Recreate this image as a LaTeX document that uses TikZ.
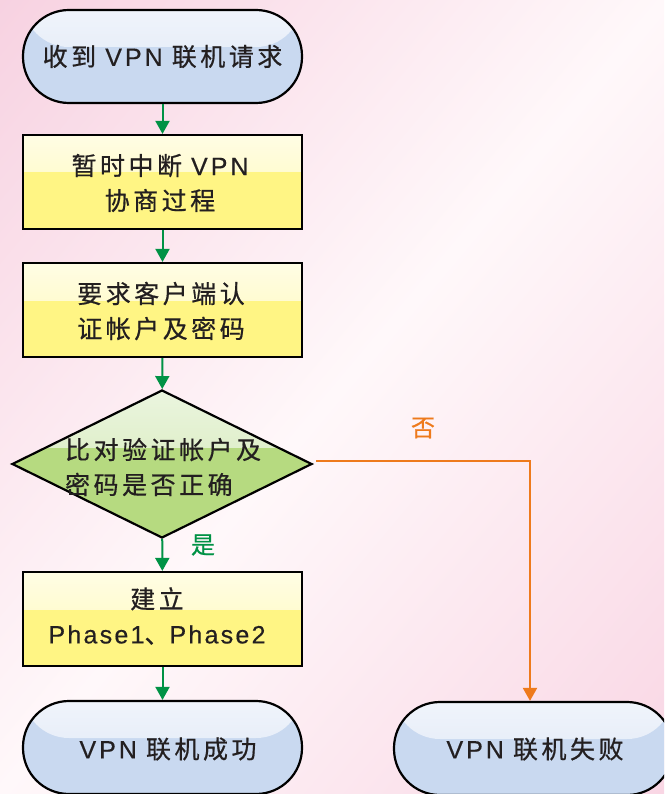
\documentclass[tikz,border=0pt]{standalone}
\usepackage{fontspec}
\setmainfont{Noto Sans CJK SC}
\newfontfamily\lblfont[LetterSpace=14,FakeBold=0.6]{Noto Sans CJK SC}
\newfontfamily\phfont[LetterSpace=9,FakeBold=0.4]{Liberation Sans}
\newfontfamily\vpnfont[LetterSpace=12,FakeBold=0.4]{Liberation Sans}
\usetikzlibrary{shapes.geometric,arrows.meta}
\definecolor{bgpink}{HTML}{F4C2D7}
\definecolor{bgpinkb}{HTML}{F6C8DB}
\definecolor{bgwhite}{HTML}{FFF8FA}
\pgfdeclareverticalshading{bgshade}{100bp}{color(0bp)=(bgpinkb); color(50bp)=(bgwhite); color(100bp)=(bgpink)}
\definecolor{termtop}{HTML}{F0F4FB}
\definecolor{termmid}{HTML}{DCE6F5}
\definecolor{termbot}{HTML}{C9D9F0}
\definecolor{yeltop}{HTML}{FFFDE4}
\definecolor{yelmid}{HTML}{FFF9B6}
\definecolor{yelbot}{HTML}{FFF584}
\definecolor{grntop}{HTML}{EBF5DF}
\definecolor{grnmid}{HTML}{CFE7AE}
\definecolor{grnbot}{HTML}{B6DA80}
\definecolor{txt}{HTML}{231F20}
\definecolor{garr}{HTML}{009245}
\definecolor{oarr}{HTML}{EE7A1C}
\newcommand{\VPNtxt}{{\vpnfont VPN}}
\newcommand{\PHtxt}[1]{{\phfont\fontsize{25pt}{35pt}\selectfont #1}}
\tikzset{
  base/.style={draw=black, line width=2.2pt, inner sep=0pt, text=txt,
    font=\lblfont\fontsize{25pt}{35pt}\selectfont, align=center},
  term/.style={base, rectangle, rounded corners=46pt, minimum width=279pt,
    minimum height=93pt, fill=termbot,
    path picture={\shade[top color=termtop, bottom color=termmid]
      (path picture bounding box.north west) rectangle
      ([yshift=-37pt]path picture bounding box.north east);}},
  procbox/.style={base, rectangle, minimum width=279pt, minimum height=94pt,
    fill=yelbot,
    path picture={\shade[top color=yeltop, bottom color=yelmid]
      (path picture bounding box.north west) rectangle
      ([yshift=-37pt]path picture bounding box.north east);}},
  decis/.style={base, diamond, minimum width=300pt, minimum height=148pt,
    fill=grnbot,
    path picture={\shade[top color=grntop, bottom color=grnmid]
      (path picture bounding box.north west) rectangle
      ([yshift=-57pt]path picture bounding box.north east);}},
  garrow/.style={draw=garr, line width=2pt,
    -{Triangle[width=14pt,length=13pt]}},
  oarrow/.style={draw=oarr, line width=2pt,
    -{Triangle[width=14pt,length=13pt]}},
  lbl/.style={font=\lblfont\fontsize{24pt}{30pt}\selectfont, inner sep=0pt}
}
\begin{document}
\begin{tikzpicture}[x=1pt,y=-1pt]
\useasboundingbox (0,0) rectangle (664,794);
\clip (0,0) rectangle (664,794);
\shade[shading=bgshade, shading angle=50] (0,0) rectangle (664,794);

\node[term] (t1) at (162.5,56.5) {收到 \VPNtxt\ 联机请求};
\node[procbox] (b2) at (162.5,182) {};
\node[base, draw=none, fill=none] (b2t) at (160,183) {暂时中断 \VPNtxt\\协商过程};
\node[procbox] (b3) at (162.5,310) {};
\node[base, draw=none, fill=none] (b3t) at (161,311) {要求客户端认\\证帐户及密码};
\node[decis] (d) at (162,464) {};
\node[base, draw=none, fill=none, align=left, anchor=west] (dt) at (64,467) {比对验证帐户及\\密码是否正确};
\node[procbox] (b4) at (162.5,619) {};
\node[base, draw=none, fill=none] (b4t) at (157,616) {建立\\\PHtxt{Phase1}、\PHtxt{Phase2}};
\node[term] (t2) at (162.5,747.5) {};
\node[base, draw=none, fill=none] (t2t) at (168,749) {\VPNtxt\ 联机成功};
\node[term] (t3) at (533.5,748.5) {};
\node[base, draw=none, fill=none] (t3t) at (535,749) {\VPNtxt\ 联机失败};

\draw[garrow] (t1) -- (b2);
\draw[garrow] (b2) -- (b3);
\draw[garrow] (b3) -- (d);
\draw[garrow] (d) -- (b4);
\draw[garrow] (b4) -- (t2);
\coordinate (oend) at ([xshift=-3.5pt]t3.north);
\draw[oarrow] ([xshift=3pt,yshift=3pt]d.east) -| (oend);

\node[lbl, text=garr] (yes) at (203,545) {是};
\node[lbl, text=oarr] (no) at (423,428) {否};
\end{tikzpicture}
\end{document}
